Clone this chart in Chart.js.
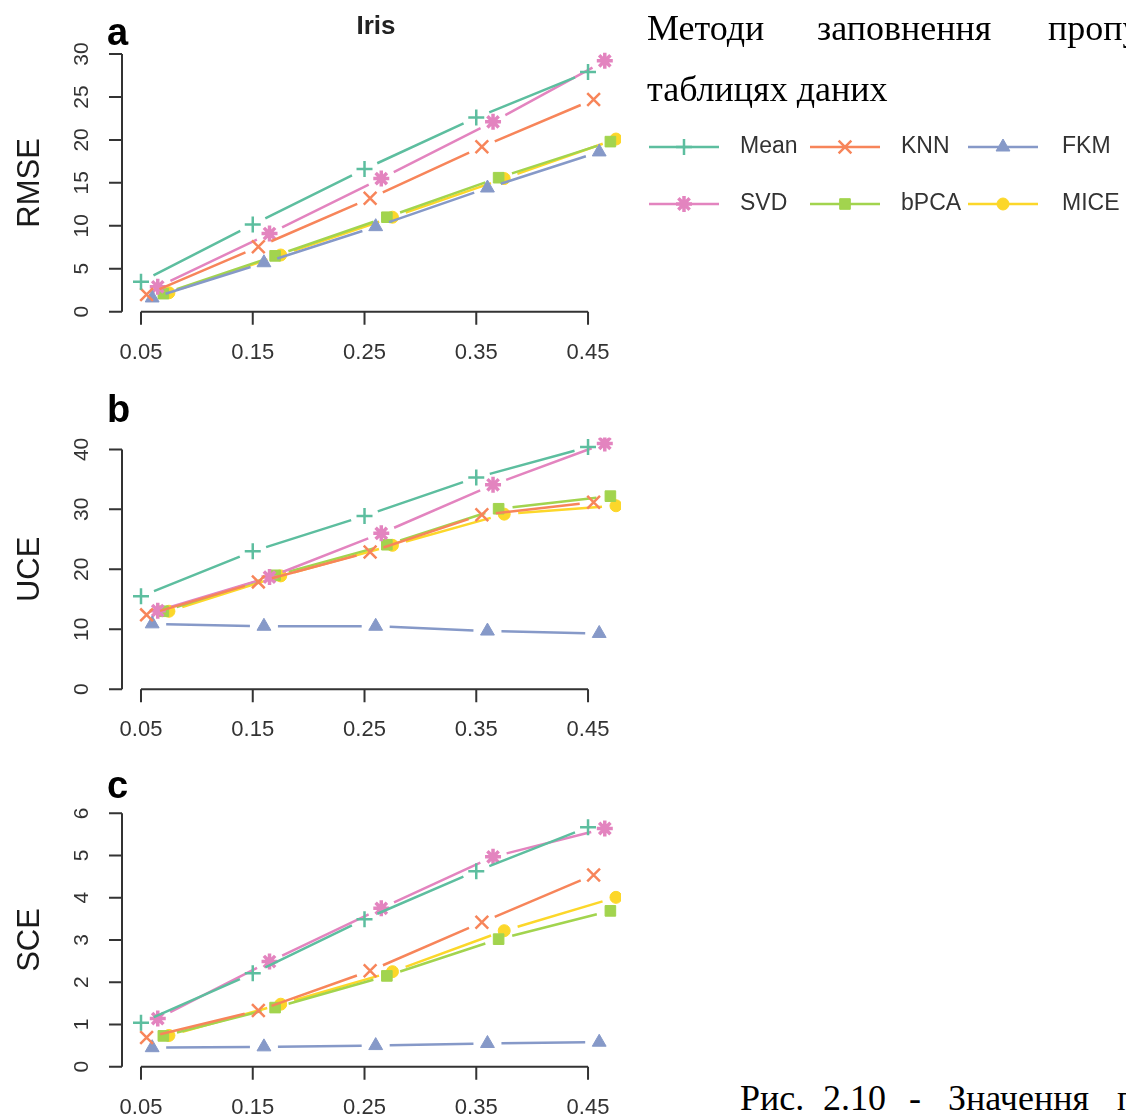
<!DOCTYPE html>
<html lang="uk">
<head>
<meta charset="utf-8">
<title>Iris: RMSE, UCE, SCE</title>
<script src="https://cdn.jsdelivr.net/npm/chart.js@4.4.1/dist/chart.umd.min.js"></script>
<style>
  html, body { margin: 0; padding: 0; background: #fff; }
  body { width: 1126px; height: 1119px; position: relative; overflow: hidden;
         font-family: "Liberation Serif", "Times New Roman", serif; }
  canvas { position: absolute; left: 0; }
  #cA { top: 0; }
  #cB { top: 375px; }
  #cC { top: 755px; }
  .doc { position: absolute; font-size: 36px; line-height: 1; color: #000; white-space: nowrap; }
</style>
</head>
<body>
<canvas id="cA" width="1126" height="375"></canvas>
<canvas id="cB" width="640" height="380"></canvas>
<canvas id="cC" width="640" height="364"></canvas>

<div class="doc" style="left:647px; top:10px;">Методи</div>
<div class="doc" style="left:817px; top:10px;">заповнення</div>
<div class="doc" style="left:1048px; top:10px;">пропусків</div>
<div class="doc" style="left:647px; top:71px;">таблицях даних</div>
<div class="doc" style="left:740px; top:1080px;">Рис.</div>
<div class="doc" style="left:823px; top:1080px;">2.10</div>
<div class="doc" style="left:909px; top:1080px;">-</div>
<div class="doc" style="left:948px; top:1080px;">Значення</div>
<div class="doc" style="left:1117px; top:1080px;">показників</div>

<script>
// ---- data ----
const missingRates = [0.05, 0.15, 0.25, 0.35, 0.45];
const xTickLabels = ['0.05', '0.15', '0.25', '0.35', '0.45'];
const methods = ['Mean', 'KNN', 'FKM', 'SVD', 'bPCA', 'MICE'];

// one row per method, in the order of `methods`
const rmseValues = [
  [3.5, 10.15, 16.6, 22.6, 27.9],
  [2.0, 7.55, 13.2, 19.2, 24.7],
  [1.6, 5.7, 9.9, 14.4, 18.6],
  [2.9, 9.1, 15.5, 22.1, 29.2],
  [2.1, 6.5, 11.0, 15.6, 19.8],
  [2.2, 6.6, 11.0, 15.5, 20.1]
];
const uceValues = [
  [15.5, 23.0, 28.9, 35.3, 40.4],
  [12.4, 17.9, 22.9, 29.1, 31.2],
  [10.9, 10.5, 10.5, 9.7, 9.3],
  [13.1, 18.7, 26.0, 34.1, 41.0],
  [13.0, 19.0, 24.1, 30.1, 32.2],
  [13.0, 18.9, 24.0, 29.2, 30.6]
];
const sceValues = [
  [1.04, 2.21, 3.49, 4.63, 5.67],
  [0.69, 1.33, 2.27, 3.42, 4.54],
  [0.45, 0.47, 0.50, 0.55, 0.58],
  [1.14, 2.49, 3.75, 4.97, 5.64],
  [0.73, 1.40, 2.15, 3.02, 3.69],
  [0.74, 1.48, 2.25, 3.22, 4.01]
];

const rmseTicks = [0, 5, 10, 15, 20, 25, 30];
const uceTicks = [0, 10, 20, 30, 40];
const sceTicks = [0, 1, 2, 3, 4, 5, 6];

// ---- styling ----
const methodColors = ['#5DBE9F', '#F7855A', '#8699C8', '#E384BF', '#A2D44E', '#FCD72A'];
const methodMarkers = ['cross', 'crossRot', 'triangle', 'star', 'rect', 'circle'];
const markerRadius = [8, 9, 8, 8, 7.5, 6];
const markerBorder = [2.5, 2.5, 1, 3.5, 1, 1];
// small horizontal dodge so overlapping methods stay visible
const dodge = [0, 0.005, 0.010, 0.015, 0.020, 0.025];

const SANS = '"Liberation Sans", Arial, Helvetica, sans-serif';
const INK = '#333333';
const X_MIN = 0.033, X_MAX = 0.4795;

// line segments with gaps around the markers (points drawn by the library)
const brokenLines = {
  id: 'brokenLines',
  beforeDatasetDraw(chart, args, opts) {
    const { ctx, chartArea: a } = chart;
    const pts = args.meta.data;
    const ds = chart.data.datasets[args.index];
    const gap = opts.gap;
    ctx.save();
    ctx.beginPath();
    ctx.rect(a.left, a.top, a.right - a.left, a.bottom - a.top);
    ctx.clip();
    ctx.strokeStyle = ds.borderColor;
    ctx.lineWidth = opts.width;
    ctx.beginPath();
    for (let k = 1; k < pts.length; k++) {
      const p = pts[k - 1], q = pts[k];
      const dx = q.x - p.x, dy = q.y - p.y, len = Math.hypot(dx, dy);
      if (len <= 2 * gap) continue;
      const ux = dx / len, uy = dy / len;
      ctx.moveTo(p.x + ux * gap, p.y + uy * gap);
      ctx.lineTo(q.x - ux * gap, q.y - uy * gap);
    }
    ctx.stroke();
    ctx.restore();
  }
};

// base-graphics style axes: lines span only the first..last tick
const rAxes = {
  id: 'rAxes',
  afterDraw(chart, args, o) {
    const { ctx, chartArea: a, scales: { x, y } } = chart;
    const TICK = 13;
    ctx.save();
    ctx.strokeStyle = INK;
    ctx.fillStyle = INK;
    ctx.lineWidth = 2;

    // x axis
    const xs = o.xTicks.map(v => x.getPixelForValue(v));
    const yb = a.bottom;
    ctx.beginPath();
    ctx.moveTo(xs[0], yb);
    ctx.lineTo(xs[xs.length - 1], yb);
    xs.forEach(px => { ctx.moveTo(px, yb); ctx.lineTo(px, yb + TICK); });
    ctx.stroke();
    ctx.font = '22px ' + SANS;
    ctx.textAlign = 'center';
    ctx.textBaseline = 'middle';
    xs.forEach((px, i) => ctx.fillText(o.xLabels[i], px, yb + 41));

    // y axis
    const ys = o.yTicks.map(v => y.getPixelForValue(v));
    const xl = a.left;
    ctx.beginPath();
    ctx.moveTo(xl, ys[0]);
    ctx.lineTo(xl, ys[ys.length - 1]);
    ys.forEach(py => { ctx.moveTo(xl, py); ctx.lineTo(xl - TICK, py); });
    ctx.stroke();
    ctx.font = '21px ' + SANS;
    ys.forEach((py, i) => {
      ctx.save();
      ctx.translate(xl - 40, py);
      ctx.rotate(-Math.PI / 2);
      ctx.fillText(String(o.yTicks[i]), 0, 0);
      ctx.restore();
    });

    // axis title
    ctx.fillStyle = '#1a1a1a';
    ctx.font = '31px ' + SANS;
    ctx.save();
    ctx.translate(30, (ys[0] + ys[ys.length - 1]) / 2);
    ctx.rotate(-Math.PI / 2);
    ctx.fillText(o.title, 0, 0);
    ctx.restore();

    // panel letter
    ctx.fillStyle = '#000';
    ctx.font = 'bold 38px ' + SANS;
    ctx.textAlign = 'left';
    ctx.textBaseline = 'alphabetic';
    ctx.fillText(o.letter, 107, o.letterBaseline);

    if (o.heading) {
      ctx.font = 'bold 26px ' + SANS;
      ctx.textAlign = 'center';
      ctx.fillStyle = '#222';
      ctx.fillText(o.heading, 376, 34);
    }
    ctx.restore();
  }
};

// legend with a line through each marker, two rows of three
const lineLegend = {
  id: 'lineLegend',
  afterDraw(chart, args, o) {
    if (!o.show) return;
    const ctx = chart.ctx;
    const cols = [{ c: 684, t: 740 }, { c: 845, t: 901 }, { c: 1003, t: 1062 }];
    const rows = [147, 204];
    const drawPoint = Chart.helpers && Chart.helpers.drawPoint;
    ctx.save();
    chart.data.datasets.forEach((ds, i) => {
      const col = cols[i % 3], yy = rows[Math.floor(i / 3)];
      ctx.strokeStyle = ds.borderColor;
      ctx.fillStyle = ds.borderColor;
      ctx.lineWidth = 2.5;
      ctx.beginPath();
      ctx.moveTo(col.c - 35, yy);
      ctx.lineTo(col.c + 35, yy);
      ctx.stroke();
      ctx.lineWidth = ds.pointBorderWidth;
      if (drawPoint) {
        drawPoint(ctx, { pointStyle: ds.pointStyle, radius: ds.pointRadius,
                         borderWidth: ds.pointBorderWidth, rotation: 0 }, col.c, yy);
      }
      ctx.fillStyle = INK;
      ctx.font = '23px ' + SANS;
      ctx.textAlign = 'left';
      ctx.textBaseline = 'middle';
      ctx.fillText(ds.label, col.t, yy);
    });
    ctx.restore();
  }
};

function makePanel(id, values, cfg) {
  const canvas = document.getElementById(id);
  // pixel placement of the plot region inside this canvas
  const unit = (cfg.zeroPx - cfg.topTickPx) / cfg.yTicks[cfg.yTicks.length - 1];
  const top = cfg.zeroPx - cfg.yMax * unit;
  const datasets = methods.map((m, i) => ({
    label: m,
    data: missingRates.map((r, j) => ({ x: r + dodge[i], y: values[i][j] })),
    showLine: false,
    borderColor: methodColors[i],
    backgroundColor: methodColors[i],
    pointStyle: methodMarkers[i],
    pointRadius: markerRadius[i],
    pointHoverRadius: markerRadius[i],
    pointBorderWidth: markerBorder[i],
    pointBackgroundColor: methodColors[i],
    pointBorderColor: methodColors[i],
    clip: 0
  }));
  return new Chart(canvas, {
    type: 'line',
    data: { datasets },
    options: {
      responsive: false,
      animation: false,
      devicePixelRatio: 1,
      events: [],
      layout: {
        padding: {
          left: 122,
          right: canvas.width - 621,
          top: top,
          bottom: canvas.height - cfg.zeroPx
        }
      },
      scales: {
        x: { type: 'linear', min: X_MIN, max: X_MAX, display: false },
        y: { type: 'linear', min: 0, max: cfg.yMax, display: false }
      },
      plugins: {
        legend: { display: false },
        tooltip: { enabled: false },
        brokenLines: { gap: 14, width: 2.5 },
        rAxes: {
          xTicks: missingRates, xLabels: xTickLabels,
          yTicks: cfg.yTicks, title: cfg.title,
          letter: cfg.letter, letterBaseline: cfg.letterBaseline,
          heading: cfg.heading
        },
        lineLegend: { show: !!cfg.legend }
      }
    },
    plugins: [brokenLines, rAxes, lineLegend]
  });
}

makePanel('cA', rmseValues, {
  yTicks: rmseTicks, yMax: 31.5, zeroPx: 311.7, topTickPx: 54,
  title: 'RMSE', letter: 'a', letterBaseline: 45, heading: 'Iris', legend: true
});
makePanel('cB', uceValues, {
  yTicks: uceTicks, yMax: 42, zeroPx: 314.2, topTickPx: 74.4,
  title: 'UCE', letter: 'b', letterBaseline: 47
});
makePanel('cC', sceValues, {
  yTicks: sceTicks, yMax: 6.3, zeroPx: 311.7, topTickPx: 58.3,
  title: 'SCE', letter: 'c', letterBaseline: 43
});
</script>
</body>
</html>
